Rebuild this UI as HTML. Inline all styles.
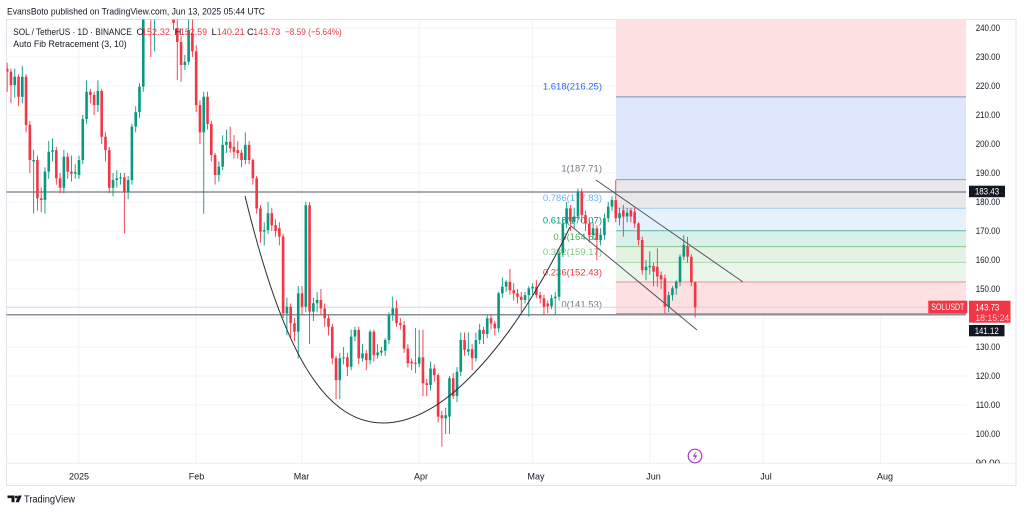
<!DOCTYPE html>
<html>
<head>
<meta charset="utf-8">
<style>
  html,body{margin:0;padding:0;background:#fff;}
  svg{display:block;font-family:"Liberation Sans",Arial,sans-serif;}
</style>
</head>
<body>
<svg width="1024" height="512" viewBox="0 0 1024 512" xmlns="http://www.w3.org/2000/svg">
  <defs>
    <clipPath id="plotclip"><rect x="6.5" y="19.5" width="959.5" height="443.8"/></clipPath>
    <clipPath id="axisclip"><rect x="966" y="19.5" width="50" height="443.8"/></clipPath>
  </defs>
  <rect x="0" y="0" width="1024" height="512" fill="#fff"/>
  <text x="7" y="14.5" font-size="9.5" fill="#131722" textLength="258" lengthAdjust="spacingAndGlyphs">EvansBoto published on TradingView.com, Jun 13, 2025 05:44 UTC</text>

  <rect x="6.5" y="19.5" width="1009.5" height="466" fill="#fff" stroke="#e0e3eb" stroke-width="1"/>
  <line x1="6.5" y1="463.3" x2="1016" y2="463.3" stroke="#eceef2" stroke-width="1"/>

  <g stroke="#f1f3f6" stroke-width="1">
    <line x1="6.5" x2="966" y1="28" y2="28"/>
    <line x1="6.5" x2="966" y1="57" y2="57"/>
    <line x1="6.5" x2="966" y1="86" y2="86"/>
    <line x1="6.5" x2="966" y1="115" y2="115"/>
    <line x1="6.5" x2="966" y1="144" y2="144"/>
    <line x1="6.5" x2="966" y1="173" y2="173"/>
    <line x1="6.5" x2="966" y1="202" y2="202"/>
    <line x1="6.5" x2="966" y1="231" y2="231"/>
    <line x1="6.5" x2="966" y1="260" y2="260"/>
    <line x1="6.5" x2="966" y1="289" y2="289"/>
    <line x1="6.5" x2="966" y1="318" y2="318"/>
    <line x1="6.5" x2="966" y1="347" y2="347"/>
    <line x1="6.5" x2="966" y1="376" y2="376"/>
    <line x1="6.5" x2="966" y1="405" y2="405"/>
    <line x1="6.5" x2="966" y1="434" y2="434"/>
    <line x1="79" x2="79" y1="19.5" y2="463"/>
    <line x1="196.2" x2="196.2" y1="19.5" y2="463"/>
    <line x1="302" x2="302" y1="19.5" y2="463"/>
    <line x1="419.2" x2="419.2" y1="19.5" y2="463"/>
    <line x1="532.6" x2="532.6" y1="19.5" y2="463"/>
    <line x1="649.8" x2="649.8" y1="19.5" y2="463"/>
    <line x1="763.2" x2="763.2" y1="19.5" y2="463"/>
    <line x1="880.4" x2="880.4" y1="19.5" y2="463"/>
  </g>

  <g>
    <rect x="616" y="19.5" width="350" height="77.4" fill="#fde0e2"/>
    <rect x="616" y="96.9" width="350" height="82.7" fill="#dee6fc"/>
    <rect x="616" y="179.6" width="350" height="28.7" fill="#e8e8ea"/>
    <rect x="616" y="208.3" width="350" height="22.5" fill="#e5f2fd"/>
    <rect x="616" y="230.8" width="350" height="15.8" fill="#d9efea"/>
    <rect x="616" y="246.6" width="350" height="15.8" fill="#e3f2e3"/>
    <rect x="616" y="262.4" width="350" height="19.6" fill="#ebf6eb"/>
    <rect x="616" y="282" width="350" height="31.6" fill="#fde0e2"/>
  </g>
  <g stroke-width="1">
    <line x1="616" x2="966" y1="96.9" y2="96.9" stroke="#7f8fc9"/>
    <line x1="616" x2="966" y1="179.6" y2="179.6" stroke="#9a9ca4"/>
    <line x1="616" x2="966" y1="208.3" y2="208.3" stroke="#9fcbef"/>
    <line x1="616" x2="966" y1="230.8" y2="230.8" stroke="#5fb3a3"/>
    <line x1="616" x2="966" y1="246.6" y2="246.6" stroke="#86c689"/>
    <line x1="616" x2="966" y1="262.4" y2="262.4" stroke="#a9d8ab"/>
    <line x1="616" x2="966" y1="282" y2="282" stroke="#ee8f97"/>
    <line x1="616" x2="966" y1="313.6" y2="313.6" stroke="#9a9ca4"/>
  </g>
  <g font-size="9.5" text-anchor="end">
    <text x="602" y="89.5" fill="#2962ff">1.618(216.25)</text>
    <text x="602" y="171.5" fill="#787b86">1(187.71)</text>
    <text x="602" y="200.8" fill="#64b5f6">0.786(177.83)</text>
    <text x="602" y="223.5" fill="#089981">0.618(170.07)</text>
    <text x="602" y="240" fill="#4caf50">0.5(164.62)</text>
    <text x="602" y="255" fill="#81c784">0.382(159.17)</text>
    <text x="602" y="275.5" fill="#f23645">0.236(152.43)</text>
    <text x="602" y="307.5" fill="#787b86">0(141.53)</text>
  </g>

  <line x1="6.5" x2="966" y1="307.2" y2="307.2" stroke="#d4cfd1" stroke-width="0.8"/>
  <line x1="6.5" x2="966" y1="192" y2="192" stroke="#8a8d96" stroke-width="1.5"/>
  <line x1="6.5" x2="966" y1="314.8" y2="314.8" stroke="#8a8d96" stroke-width="1.5"/>

  <g clip-path="url(#plotclip)" fill="none">
    <path stroke="#089981" stroke-width="0.9" d="M14.74 68.6V97.6M22.3 65.7V103.4M33.64 149.8V213.6M44.98 167.2V213.6M48.76 141.1V178.8M52.54 138.2V161.4M63.88 149.8V193.3M75.22 164.3V178.8M79 155.6V178.8M82.78 115V164.3M86.56 80.2V123.7M97.9 80.2V112.1M113.02 173V196.2M116.8 170.1V187.5M120.58 173V184.6M128.14 175.9V199.1M131.92 123.7V184.6M135.7 106.3V132.4M139.48 83.1V117.9M143.26 0V91.8M154.6 0V51.2M184.84 55V70M188.62 19.5V65M203.74 91.8V213.6M218.86 161.4V181.7M222.64 135.3V170.1M226.42 129.5V152.7M245.32 132.4V164.3M264.22 222.3V245.5M268 202V233.9M286.9 297.7V335.4M298.24 286.1V358.6M305.8 202V312.2M313.36 297.7V320.9M317.14 291.9V312.2M339.82 352.8V399.2M343.6 347V364.4M351.16 329.6V370.2M354.94 326.7V341.2M362.5 344.1V361.5M370.06 329.6V364.4M377.62 344.1V358.6M381.4 347V355.7M385.18 338.3V355.7M388.96 312.2V344.1M392.74 296.5V320.9M419.2 330V367.3M430.54 361.5V390.5M445.66 407.9V434M449.44 376V434M457 367.3V402.1M460.78 332.5V376M468.34 332.5V355.7M475.9 332.5V361.5M479.68 323.8V344.1M487.24 315.1V338.3M498.58 291.9V332.5M502.36 277.4V297.7M506.14 280.3V291.9M525.04 291.9V303.5M528.82 286.1V316.6M532.6 283.2V294.8M551.5 294.8V309.3M555.28 291.9V315.1M559.06 251.3V300.6M562.84 219.4V257.1M566.62 202V228.1M574.18 207.8V228.1M577.96 188.4V219.4M593.08 222.3V239.7M600.64 228.1V245.5M604.42 213.6V239.7M608.2 202V222.3M611.98 196.2V210.7M619.54 207.8V225.2M627.1 207.8V222.3M646 260V280.3M649.78 251.3V274.5M668.68 291.9V312.2M672.46 286.1V300.6M676.24 280.3V294.8M680.02 254.2V286.1M683.8 235.1V260"/>
    <path stroke="#089981" stroke-width="2.6" d="M14.74 76.7V85.1M22.3 76.7V96.7M33.64 160V161.4M44.98 171.6V200M48.76 151.8V171.6M52.54 150.1V151.8M63.88 156.8V187.8M75.22 172.1V173.6M79 160V175M82.78 119.1V160M86.56 91.8V119.1M97.9 90.9V105.1M113.02 180V187.8M116.8 178.2V180M120.58 177.4V178.4M128.14 180V191.9M131.92 126.6V180M135.7 112.1V126.6M139.48 86.6V112.1M143.26 0V86.6M184.84 61.7V65M188.62 30V61.7M203.74 96.7V132.4M218.86 166.6V175M222.64 144.9V166.6M226.42 141.7V144.9M245.32 144.9V160M264.22 230.1V231.6M268 213.3V230.1M286.9 306.7V313.4M298.24 293.4V331.6M305.8 205.2V306.7M313.36 303.2V311.6M317.14 300V303.2M339.82 358.3V380.1M343.6 357.4V358.4M351.16 336.6V366.7M354.94 329.9V336.6M362.5 353.4V358.3M370.06 331.6V360.1M377.62 352.5V355.1M381.4 350.8V352.5M385.18 340V350.8M388.96 315.1V340M392.74 308.4V315.1M419.2 357.4V363.8M430.54 368.5V385M445.66 415.2V418.3M449.44 378.3V416.6M457 371.7V396M460.78 340V371.7M468.34 349.3V351.6M475.9 340V358.3M479.68 329.9V340M487.24 318.3V334M498.58 293.4V328.4M502.36 286.7V293.4M506.14 281.8V286.7M525.04 295.1V300M528.82 288.4V295.1M532.6 286.7V288.4M551.5 298.3V306.4M555.28 296.8V298.3M559.06 253.3V296.8M562.84 223.5V253.3M566.62 208.4V223.5M574.18 216.5V221.7M577.96 191.6V216.5M593.08 228.4V235.1M600.64 235.1V240M604.42 218.2V235.1M608.2 206.6V218.2M611.98 200V206.6M619.54 213.3V218.2M627.1 212.7V216.5M646 266.7V270.2M649.78 265.8V267.3M668.68 295.1V306.7M672.46 288.4V295.1M676.24 281.8V288.4M680.02 256.8V281.8M683.8 244.9V256.8"/>
    <path stroke="#f23645" stroke-width="0.9" d="M7.18 62.8V91.8M10.96 68.6V103.4M18.52 74.4V106.3M26.08 74.4V132.4M29.86 120.8V173M37.42 155.6V210.7M41.2 187.5V212.2M56.32 146.9V184.6M60.1 173V193.3M67.66 152.7V178.8M71.44 155.6V181.7M90.34 88.9V103.4M94.12 91.8V115M101.68 88.9V144M105.46 132.4V161.4M109.24 146.9V193.3M124.36 173V233.3M150.82 0V57M173.5 0V30M177.28 19.5V80M181.06 36V81.7M192.4 19.5V57M196.18 45.4V112.1M199.96 100.5V144M207.52 91.8V129.5M211.3 120.8V161.4M215.08 152.7V184.6M230.2 126.6V152.7M233.98 135.3V158.5M237.76 141.1V158.5M241.54 149.8V167.2M249.1 141.1V164.3M252.88 158.5V184.6M256.66 175.9V213.6M260.44 204.9V242.6M271.78 207.8V231M275.56 219.4V236.8M279.34 222.3V245.5M283.12 233.9V318M290.68 303.5V338.3M294.46 318V341.2M302.02 286.1V315.1M309.58 202V344.1M320.92 289V315.1M324.7 303.5V326.7M328.48 315.1V335.4M332.26 323.8V364.4M336.04 355.7V399.2M347.38 352.8V376M358.72 326.7V364.4M366.28 349.9V370.2M373.84 329.6V361.5M396.52 300.6V326.7M400.3 318V329.6M404.08 320.9V352.8M407.86 344.1V367.3M411.64 358.6V370.2M415.42 328V373.1M422.98 329.6V396.3M426.76 378.9V396.3M434.32 364.4V381.8M438.1 373.1V422.4M441.88 410.8V446.8M453.22 373.1V399M464.56 332.5V355.7M472.12 344.1V370.2M483.46 326.7V344.1M491.02 315.1V329.6M494.8 320.9V335.4M509.92 268.7V294.8M513.7 283.2V300.6M517.48 289V303.5M521.26 291.9V312.2M536.38 280.3V297.7M540.16 291.9V303.5M543.94 294.8V315.1M547.72 300.6V313.4M570.4 204.9V231M581.74 188.4V222.3M585.52 210.7V231M589.3 219.4V242.6M596.86 225.2V260M615.76 179.7V222.3M623.32 204.9V236.8M630.88 207.8V222.3M634.66 207.8V228.1M638.44 222.3V245.5M642.22 236.8V274.5M653.56 262.9V286.1M657.34 248.4V286.7M661.12 271.6V289M664.9 274.5V313.6M687.58 236.8V262.9M691.36 254.2V286.1M695.14 281.5V317.4"/>
    <path stroke="#f23645" stroke-width="2.6" d="M7.18 68.6V71.8M10.96 71.8V85.1M18.52 76.7V96.7M26.08 76.7V124.9M29.86 124.9V160M37.42 160V198.2M41.2 198.2V200M56.32 150.1V178.2M60.1 178.2V187.8M67.66 156.8V171.6M71.44 171.6V173.6M90.34 91.8V95M94.12 95V105.1M101.68 90.9V136.8M105.46 136.8V150.1M109.24 150.1V187.8M124.36 177.4V191.9M173.5 19.5V23M177.28 28V42M181.06 42V65M192.4 33.2V51.2M196.18 51.2V105.1M199.96 105.1V132.4M207.52 96.7V124M211.3 124V155M215.08 155V175M230.2 141.7V148.4M233.98 146.9V151.8M237.76 150.1V153M241.54 152.7V160M249.1 144.9V160M252.88 160V178.2M256.66 178.2V208.4M260.44 208.4V231.6M271.78 213.3V225.2M275.56 225.2V231M279.34 228.1V236.5M283.12 236.5V313.4M290.68 306.7V323.2M294.46 323.2V331.6M302.02 293.4V306.7M309.58 205.2V311.6M320.92 300V308.4M324.7 308.4V318.3M328.48 318.3V326.7M332.26 326.7V358.3M336.04 358.3V380.1M347.38 357.4V366.7M358.72 329.9V358.3M366.28 353.4V360.1M373.84 331.6V355.1M396.52 308.4V323.2M400.3 323.2V325M404.08 325V348.5M407.86 348.5V363.2M411.64 361.8V363.2M415.42 362.7V363.9M422.98 357.4V383.3M426.76 383.3V385M434.32 368.5V375.1M438.1 375.1V416.6M441.88 415.2V418.3M453.22 378.3V396M464.56 340V349.9M472.12 349.3V358.3M483.46 329.9V334M491.02 318.3V323.5M494.8 323.5V328.4M509.92 281.8V290.2M513.7 290.2V293.4M517.48 293.4V296.8M521.26 296.8V300M536.38 286.7V295.1M540.16 295.1V298.3M543.94 298.3V306.7M547.72 303.5V306.4M570.4 208.4V221.7M581.74 191.6V215.1M585.52 215.1V223.5M589.3 223.5V235.1M596.86 228.4V240M615.76 200V218.2M623.32 210.1V216.5M630.88 210.1V216.5M634.66 211.6V223.5M638.44 223.5V240M642.22 240V270.2M653.56 266.1V271.6M657.34 266.7V276.5M661.12 275.1V279.4M664.9 278.3V306.7M687.58 246.1V256.8M691.36 256.8V282.3M695.14 282.3V307.2"/>
  </g>

  <path d="M245,196 C280,340 320,423 383,423 C450,423 520,330 570,227" fill="none" stroke="#2a2e39" stroke-width="1"/>
  <line x1="596" y1="180" x2="743" y2="282" stroke="#50535e" stroke-width="1"/>
  <line x1="571" y1="226" x2="697" y2="330" stroke="#50535e" stroke-width="1"/>

  <g font-size="9.5">
    <text x="13.3" y="35" fill="#131722" textLength="118.4" lengthAdjust="spacingAndGlyphs">SOL / TetherUS · 1D · BINANCE</text>
    <text x="136.5" y="35" fill="#131722">O</text>
    <text x="141.7" y="35" fill="#f23645" textLength="28.3" lengthAdjust="spacingAndGlyphs">152.32</text>
    <text x="174.5" y="35" fill="#131722">H</text>
    <text x="180" y="35" fill="#f23645" textLength="27" lengthAdjust="spacingAndGlyphs">152.59</text>
    <text x="211.5" y="35" fill="#131722">L</text>
    <text x="216.7" y="35" fill="#f23645" textLength="28" lengthAdjust="spacingAndGlyphs">140.21</text>
    <text x="247" y="35" fill="#131722">C</text>
    <text x="253.3" y="35" fill="#f23645" textLength="27" lengthAdjust="spacingAndGlyphs">143.73</text>
    <text x="285" y="35" fill="#f23645" textLength="56.7" lengthAdjust="spacingAndGlyphs">−8.59 (−5.64%)</text>
    <text x="13.3" y="46.8" fill="#131722" textLength="113.4" lengthAdjust="spacingAndGlyphs">Auto Fib Retracement (3, 10)</text>
  </g>

  <g font-size="9" fill="#131722" clip-path="url(#axisclip)">
    <text x="975.7" y="31.2" textLength="24.3" lengthAdjust="spacingAndGlyphs">240.00</text>
    <text x="975.7" y="60.2" textLength="24.3" lengthAdjust="spacingAndGlyphs">230.00</text>
    <text x="975.7" y="89.2" textLength="24.3" lengthAdjust="spacingAndGlyphs">220.00</text>
    <text x="975.7" y="118.2" textLength="24.3" lengthAdjust="spacingAndGlyphs">210.00</text>
    <text x="975.7" y="147.2" textLength="24.3" lengthAdjust="spacingAndGlyphs">200.00</text>
    <text x="975.7" y="176.2" textLength="24.3" lengthAdjust="spacingAndGlyphs">190.00</text>
    <text x="975.7" y="205.2" textLength="24.3" lengthAdjust="spacingAndGlyphs">180.00</text>
    <text x="975.7" y="234.2" textLength="24.3" lengthAdjust="spacingAndGlyphs">170.00</text>
    <text x="975.7" y="263.2" textLength="24.3" lengthAdjust="spacingAndGlyphs">160.00</text>
    <text x="975.7" y="292.2" textLength="24.3" lengthAdjust="spacingAndGlyphs">150.00</text>
    <text x="975.7" y="350.2" textLength="24.3" lengthAdjust="spacingAndGlyphs">130.00</text>
    <text x="975.7" y="379.2" textLength="24.3" lengthAdjust="spacingAndGlyphs">120.00</text>
    <text x="975.7" y="408.2" textLength="24.3" lengthAdjust="spacingAndGlyphs">110.00</text>
    <text x="975.7" y="437.2" textLength="24.3" lengthAdjust="spacingAndGlyphs">100.00</text>
    <text x="975.7" y="466.2" textLength="24.3" lengthAdjust="spacingAndGlyphs">90.00</text>
  </g>

  <rect x="969" y="185.7" width="36" height="11.5" fill="#131722"/>
  <text x="987" y="194.6" font-size="9" fill="#fff" text-anchor="middle" textLength="24.3" lengthAdjust="spacingAndGlyphs">183.43</text>

  <rect x="928.3" y="300.7" width="39" height="12.6" fill="#f23645"/>
  <text x="947.8" y="310.2" font-size="8.8" fill="#fff" text-anchor="middle" textLength="33" lengthAdjust="spacingAndGlyphs">SOLUSDT</text>
  <rect x="969" y="300.7" width="41.5" height="22" fill="#f23645"/>
  <text x="975.3" y="310.4" font-size="9" fill="#fff" textLength="24" lengthAdjust="spacingAndGlyphs">143.73</text>
  <text x="975.3" y="321.2" font-size="9" fill="#fbc9cd" textLength="34" lengthAdjust="spacingAndGlyphs">18:15:24</text>

  <rect x="969" y="325" width="35.5" height="11.3" fill="#131722"/>
  <text x="986.7" y="333.8" font-size="9" fill="#fff" text-anchor="middle" textLength="24" lengthAdjust="spacingAndGlyphs">141.12</text>

  <g font-size="9" fill="#131722" text-anchor="middle">
    <text x="79" y="479.5">2025</text>
    <text x="196.5" y="479.5">Feb</text>
    <text x="301.5" y="479.5">Mar</text>
    <text x="421" y="479.5">Apr</text>
    <text x="536" y="479.5">May</text>
    <text x="653.5" y="479.5">Jun</text>
    <text x="766" y="479.5">Jul</text>
    <text x="885" y="479.5">Aug</text>
  </g>

  <circle cx="695" cy="456" r="6.8" fill="#fff" stroke="#a43fbf" stroke-width="1.2"/>
  <path d="M696.2,451.2 L692.6,456.6 L695,456.6 L693.8,460.8 L697.4,455.4 L695,455.4 Z" fill="#a43fbf"/>

  <g fill="#131722">
    <path d="M7.5,495.5 h7 v6.8 h-3 v-4.2 h-4 z"/>
    <circle cx="16.3" cy="497" r="1.4"/>
    <path d="M18.2,495.5 h3.6 l-3,6.8 h-3.2 z"/>
  </g>
  <text x="24" y="502.5" font-size="10" fill="#131722" textLength="51" lengthAdjust="spacingAndGlyphs">TradingView</text>
</svg>
</body>
</html>
